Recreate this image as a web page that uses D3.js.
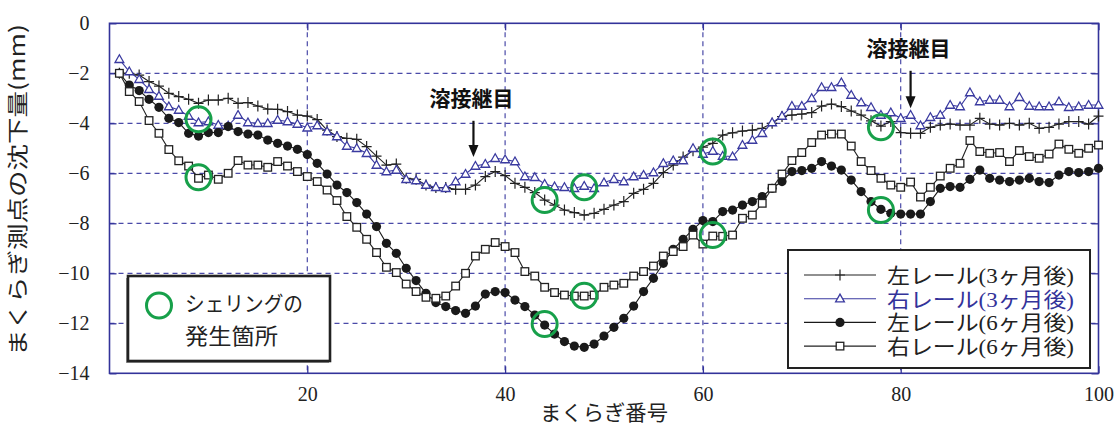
<!DOCTYPE html>
<html><head><meta charset="utf-8">
<script src="https://cdn.jsdelivr.net/npm/d3@7"></script>
<style>body{margin:0;background:#fff}svg{display:block}</style>
</head><body>
<script>
// ---- data ----
const sleepers = d3.range(1, 101);
const left3 = [-2.0,-2.0,-2.07,-2.33,-2.51,-2.8,-2.93,-3.04,-3.2,-3.07,-3.07,-3.0,-3.2,-3.17,-3.31,-3.43,-3.44,-3.53,-3.67,-3.71,
-3.85,-4.27,-4.53,-4.6,-4.64,-4.93,-5.31,-5.67,-5.63,-6.2,-6.24,-6.47,-6.57,-6.57,-6.64,-6.64,-6.47,-6.13,-5.93,-6.09,
-6.4,-6.56,-6.77,-7.07,-7.27,-7.47,-7.57,-7.67,-7.6,-7.44,-7.27,-7.13,-6.8,-6.64,-6.4,-5.97,-5.67,-5.35,-5.1,-4.95,
-4.8,-4.47,-4.38,-4.31,-4.27,-4.2,-4.0,-3.73,-3.67,-3.63,-3.57,-3.31,-3.23,-3.33,-3.51,-3.67,-3.9,-4.11,-3.93,-4.37,
-4.4,-4.4,-4.16,-4.07,-4.03,-4.07,-4.07,-3.8,-4.03,-4.07,-4.0,-4.07,-4.0,-4.2,-4.16,-4.03,-3.93,-3.93,-4.03,-3.71];
const right3 = [-1.44,-1.93,-2.24,-2.64,-2.91,-3.33,-3.47,-3.71,-3.97,-3.93,-4.07,-4.1,-3.67,-3.97,-4.0,-4.0,-3.87,-3.93,-4.03,-4.18,
-4.09,-4.33,-4.53,-4.91,-5.0,-5.2,-5.67,-5.93,-5.87,-6.24,-6.29,-6.47,-6.56,-6.6,-6.33,-6.03,-5.71,-5.63,-5.4,-5.45,
-5.53,-6.13,-6.16,-6.43,-6.53,-6.56,-6.6,-6.51,-6.6,-6.37,-6.24,-6.33,-6.13,-6.07,-5.97,-5.6,-5.49,-5.49,-5.0,-5.23,
-5.11,-5.31,-5.33,-4.87,-4.67,-4.4,-3.97,-3.71,-3.31,-3.31,-3.0,-2.56,-2.56,-2.37,-2.87,-3.17,-3.36,-3.67,-3.57,-3.8,
-3.67,-4.09,-3.76,-3.67,-3.27,-3.33,-2.77,-3.13,-3.07,-3.07,-3.33,-2.96,-3.31,-3.33,-3.33,-3.13,-3.36,-3.33,-3.27,-3.27];
const left6 = [-2.0,-2.47,-2.69,-3.04,-3.36,-3.8,-3.97,-4.4,-4.51,-4.37,-4.37,-4.13,-4.33,-4.43,-4.47,-4.67,-4.8,-4.91,-5.04,-5.25,
-5.6,-6.03,-6.47,-6.77,-7.17,-7.63,-8.13,-8.8,-9.2,-9.8,-10.29,-10.8,-11.17,-11.33,-11.49,-11.6,-11.31,-10.83,-10.73,-10.77,
-11.07,-11.33,-11.67,-12.07,-12.43,-12.73,-12.91,-12.96,-12.83,-12.51,-12.16,-11.8,-11.31,-10.73,-10.2,-9.6,-9.04,-8.64,-8.24,-7.89,
-7.93,-7.53,-7.47,-7.27,-7.13,-6.93,-6.6,-6.33,-5.93,-5.89,-5.8,-5.53,-5.71,-5.87,-6.27,-6.73,-7.13,-7.44,-7.6,-7.63,
-7.63,-7.63,-7.13,-6.6,-6.53,-6.56,-6.24,-5.87,-6.2,-6.27,-6.33,-6.27,-6.2,-6.33,-6.37,-6.07,-5.93,-5.97,-5.93,-5.8];
const right6 = [-2.0,-2.73,-3.13,-3.89,-4.4,-5.05,-5.5,-5.71,-6.2,-6.07,-6.24,-6.0,-5.49,-5.67,-5.67,-5.76,-5.53,-5.71,-5.93,-6.13,
-6.33,-6.67,-7.09,-7.73,-8.16,-8.64,-9.17,-9.76,-9.97,-10.43,-10.73,-10.96,-11.0,-10.91,-10.51,-10.0,-9.31,-9.04,-8.77,-8.93,
-9.17,-9.93,-10.11,-10.56,-10.77,-10.87,-10.91,-10.91,-10.87,-10.56,-10.47,-10.4,-10.11,-9.93,-9.71,-9.31,-9.13,-8.93,-8.47,-8.83,
-8.51,-8.52,-8.47,-7.8,-7.67,-7.2,-6.6,-6.03,-5.49,-5.17,-4.77,-4.47,-4.43,-4.43,-4.91,-5.53,-5.89,-6.2,-6.47,-6.56,
-6.35,-6.95,-6.56,-6.11,-5.8,-5.6,-4.69,-5.13,-5.2,-5.17,-5.53,-5.09,-5.33,-5.4,-5.23,-4.83,-5.04,-5.2,-5.0,-4.87];
const seriesNames = ["左レール(3ヶ月後)", "右レール(3ヶ月後)", "左レール(6ヶ月後)", "右レール(6ヶ月後)"];
const xTicks = [20, 40, 60, 80, 100];
const yTicks = [0, -2, -4, -6, -8, -10, -12, -14];
// shelling locations [sleeper, value]
const shellX = [9, 9, 44, 48, 48, 44, 61, 61, 78, 78];
const shellY = [-3.84, -6.16, -7.07, -6.56, -10.9, -12.03, -5.13, -8.47, -4.16, -7.47];
const weldX = [36.8, 81];
const weldLabel = "溶接継目";

// ---- drawing ----
const W = 1120, H = 426;
const blue = "#33339a", gridBlue = "#4a4aa8", green = "#17a04a";
const serif = "'Liberation Serif','Noto Sans CJK JP',serif";
const svg = d3.select("body").append("svg").attr("width", W).attr("height", H);
const x = d3.scaleLinear().domain([0, 100]).range([109.5, 1098.5]);
const y = d3.scaleLinear().domain([0, -14]).range([23.3, 373.3]);
const L = x.range()[0], R = x.range()[1], T = y.range()[0], B = y.range()[1];

// gridlines
const g = svg.append("g");
g.selectAll(".gx").data(xTicks.filter(d => d < 100)).join("line")
  .attr("x1", d => x(d)).attr("x2", d => x(d)).attr("y1", T).attr("y2", B)
  .attr("stroke", gridBlue).attr("stroke-width", 1.2).attr("stroke-dasharray", "5,4");
g.selectAll(".gy").data(yTicks.filter(d => d < 0 && d > -14)).join("line")
  .attr("y1", d => y(d)).attr("y2", d => y(d)).attr("x1", L).attr("x2", R)
  .attr("stroke", gridBlue).attr("stroke-width", 1.2).attr("stroke-dasharray", "5,4");

// axes (inner ticks)
const yAxisL = d3.axisLeft(y).tickValues(yTicks).tickSize(-7).tickPadding(20)
  .tickFormat(d => d === 0 ? "0" : "−" + Math.abs(d));
const yAxisR = d3.axisRight(y).tickValues(yTicks).tickSize(-7).tickFormat("");
const xAxisB = d3.axisBottom(x).tickValues(xTicks).tickSize(-7).tickPadding(14);
const xAxisT = d3.axisTop(x).tickValues(xTicks).tickSize(-7).tickFormat("");
function styleAxis(sel) {
  sel.select(".domain").remove();
  sel.selectAll(".tick line").attr("stroke", blue).attr("stroke-width", 1.3);
  sel.selectAll("text").attr("fill", "#222").style("font-family", serif).style("font-size", "20px");
}
svg.append("g").attr("transform", `translate(${L},0)`).call(yAxisL).call(styleAxis);
svg.append("g").attr("transform", `translate(${R},0)`).call(yAxisR).call(styleAxis);
svg.append("g").attr("transform", `translate(0,${B})`).call(xAxisB).call(styleAxis);
svg.append("g").attr("transform", `translate(0,${T})`).call(xAxisT).call(styleAxis);
svg.append("rect").attr("x", L).attr("y", T).attr("width", R - L).attr("height", B - T)
  .attr("fill", "none").attr("stroke", blue).attr("stroke-width", 1.6);

// series
const line = d3.line().x((d, i) => x(sleepers[i])).y(d => y(d));
const plot = svg.append("g");
function drawSeries(vals, color, marker) {
  const gg = plot.append("g");
  gg.append("path").datum(vals).attr("d", line).attr("fill", "none").attr("stroke", color).attr("stroke-width", 1.1);
  const pts = gg.selectAll("g").data(vals).join("g")
    .attr("transform", (d, i) => `translate(${x(sleepers[i])},${y(d)})`);
  marker(pts, color);
}
function plusM(s, c) {
  s.append("path").attr("d", "M-5,0H5M0,-5.5V5.5").attr("stroke", c).attr("stroke-width", 1.2);
}
function triM(s, c) {
  s.append("path").attr("d", "M0,-4.6L4.4,3.2L-4.4,3.2Z").attr("fill", "white").attr("stroke", c).attr("stroke-width", 1.3);
}
function dotM(s, c) {
  s.append("circle").attr("r", 4.6).attr("fill", c);
}
function sqM(s, c) {
  s.append("rect").attr("x", -3.8).attr("y", -3.8).attr("width", 7.6).attr("height", 7.6)
    .attr("fill", "white").attr("stroke", c).attr("stroke-width", 1.3);
}
drawSeries(left3, "#222", plusM);
drawSeries(right3, "#3a3aa0", triM);
drawSeries(left6, "#1a1a1a", dotM);
drawSeries(right6, "#222", sqM);

// shelling circles
svg.append("g").selectAll("circle").data(shellX).join("circle")
  .attr("cx", d => x(d)).attr("cy", (d, i) => y(shellY[i])).attr("r", 12.5)
  .attr("fill", "none").attr("stroke", green).attr("stroke-width", 3);

// weld annotations
const wy = [[-3.9, -5.35, -3.0], [-1.9, -3.4, -1.0]];
weldX.forEach((wx, k) => {
  const [y0, y1, ty] = wy[k];
  const cx = x(wx);
  svg.append("line").attr("x1", cx).attr("x2", cx).attr("y1", y(y0)).attr("y2", y(y1) - 10)
    .attr("stroke", "#111").attr("stroke-width", 2.2);
  svg.append("path").attr("d", `M${cx - 5},${y(y1) - 12}L${cx + 5},${y(y1) - 12}L${cx},${y(y1)}Z`).attr("fill", "#111");
  svg.append("text").attr("x", cx - 2).attr("y", y(ty) + 8).attr("text-anchor", "middle")
    .style("font-family", "'Noto Sans CJK JP',sans-serif").style("font-size", "21px").style("font-weight", "700")
    .attr("fill", "#111").text(weldLabel);
});

// main legend
const lg = svg.append("g");
lg.append("rect").attr("x", 788).attr("y", 250).attr("width", 302).attr("height", 118)
  .attr("fill", "white").attr("stroke", "#222").attr("stroke-width", 2);
const markers = [plusM, triM, dotM, sqM];
const lcolors = ["#222", "#3a3aa0", "#1a1a1a", "#222"];
const tcolors = ["#222", "#33339a", "#222", "#222"];
seriesNames.forEach((name, i) => {
  const yy = 275 + i * 23.7;
  lg.append("line").attr("x1", 804).attr("x2", 876).attr("y1", yy).attr("y2", yy).attr("stroke", lcolors[i]).attr("stroke-width", 1.1);
  const m = lg.append("g").attr("transform", `translate(840,${yy})`);
  markers[i](m, lcolors[i]);
  lg.append("text").attr("x", 887).attr("y", yy + 8).attr("fill", tcolors[i])
    .style("font-family", serif).style("font-size", "21px").attr("textLength", 187).attr("lengthAdjust", "spacingAndGlyphs").text(name);
});

// shelling legend
const sg = svg.append("g");
sg.append("rect").attr("x", 126).attr("y", 278).attr("width", 203).attr("height", 85).attr("fill", "#999");
sg.append("rect").attr("x", 128).attr("y", 276).attr("width", 202).attr("height", 85)
  .attr("fill", "white").attr("stroke", "#222").attr("stroke-width", 2.6);
sg.append("circle").attr("cx", 159).attr("cy", 305.5).attr("r", 12.5).attr("fill", "none").attr("stroke", green).attr("stroke-width", 3);
sg.append("text").attr("x", 185).attr("y", 311).style("font-family", "'Noto Sans CJK JP',sans-serif").style("font-size", "21px")
  .attr("fill", "#222").attr("textLength", 118).attr("lengthAdjust", "spacingAndGlyphs").text("シェリングの");
sg.append("text").attr("x", 185).attr("y", 344).style("font-family", "'Noto Sans CJK JP',sans-serif").style("font-size", "22px")
  .attr("fill", "#222").attr("textLength", 93).attr("lengthAdjust", "spacingAndGlyphs").text("発生箇所");

// axis titles
svg.append("text").attr("x", (L + R) / 2).attr("y", 420).attr("text-anchor", "middle")
  .style("font-family", "'Noto Sans CJK JP',sans-serif").style("font-size", "21px").attr("fill", "#222")
  .attr("textLength", 128).attr("lengthAdjust", "spacingAndGlyphs").text("まくらぎ番号");
svg.append("text").attr("transform", "translate(25,190) rotate(-90)").attr("text-anchor", "middle")
  .style("font-family", "'Noto Sans CJK JP',sans-serif").style("font-size", "21px").attr("fill", "#222")
  .attr("textLength", 332).attr("lengthAdjust", "spacingAndGlyphs").text("まくらぎ測点の沈下量(mm)");
</script>
</body></html>
